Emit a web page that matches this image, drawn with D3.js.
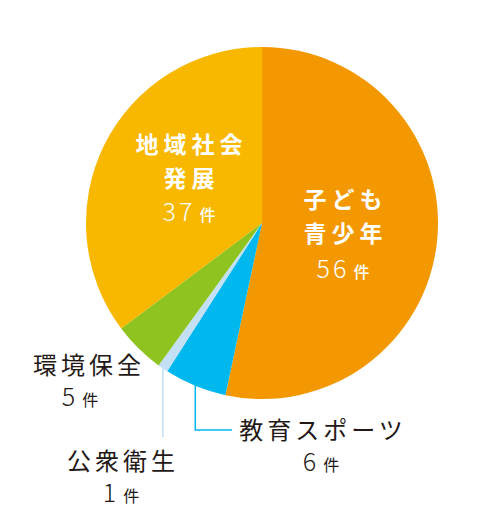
<!DOCTYPE html>
<html>
<head>
<meta charset="utf-8">
<script src="https://cdn.jsdelivr.net/npm/d3@7"></script>
<style>
  body { margin: 0; background: #fff; }
  svg { display: block; font-family: "Noto Sans CJK JP", "Noto Sans", sans-serif; }
</style>
</head>
<body>
<svg id="chart" width="500" height="517"></svg>
<script>
const categories = ["子ども青少年", "教育スポーツ", "公衆衛生", "環境保全", "地域社会発展"]
const counts = [56, 6, 1, 5, 37]
const colors = ["#F39800", "#00B8EE", "#C3E0F5", "#8FC31F", "#F8B800"]
const unit = "件"

const svg = d3.select("#chart")
const cx = 262, cy = 223, radius = 176

const data = categories.map((c, i) => ({ name: c, value: counts[i], color: colors[i] }))

const pie = d3.pie().value(d => d.value).sort(null)
const arc = d3.arc().innerRadius(0).outerRadius(radius)
const arcs = pie(data)

const g = svg.append("g").attr("transform", `translate(${cx},${cy})`)

g.selectAll("path")
    .data(arcs)
    .join("path")
    .attr("d", arc)
    .attr("fill", d => d.data.color)

// point on the rim at the middle of a slice
function rimPoint(a) {
    const mid = (a.startAngle + a.endAngle) / 2
    return [cx + Math.sin(mid) * radius, cy - Math.cos(mid) * radius]
}

// leader lines for the two thin slices
const pEdu = rimPoint(arcs[1])
svg.append("path")
    .attr("d", `M${pEdu[0]},${pEdu[1] - 2} V430 H232`)
    .attr("fill", "none")
    .attr("stroke", colors[1])
    .attr("stroke-width", 1.5)

const pHealth = rimPoint(arcs[2])
svg.append("path")
    .attr("d", `M${pHealth[0]},${pHealth[1] - 2} V437`)
    .attr("fill", "none")
    .attr("stroke", colors[2])
    .attr("stroke-width", 1.5)

// one text per label: name lines, then the count with a smaller 件
function label(lines, x, y, num, numX, numY, opts) {
    const t = svg.append("text")
        .attr("text-anchor", "middle")
        .attr("fill", opts.fill)
    lines.forEach((s, i) => {
        t.append("tspan")
            .attr("x", x + opts.ls / 2)
            .attr("y", y + i * opts.lh)
            .attr("font-size", opts.fs)
            .attr("font-weight", opts.fw)
            .attr("letter-spacing", opts.ls)
            .text(s)
    })
    t.append("tspan").attr("x", numX).attr("y", numY)
        .attr("font-size", 25).attr("font-weight", 300)
        .attr("letter-spacing", 3).text(num)
    t.append("tspan").attr("font-size", 16).attr("font-weight", opts.uw)
        .attr("dx", 4).text(unit)
}

const inside = { fill: "#fff", fs: 23, fw: 700, ls: 5, lh: 34, uw: 500 }
const outside = { fill: "#231815", fs: 24, fw: 400, ls: 4, lh: 0, uw: 400 }

label(["子ども", "青少年"], 343, 208, counts[0], 343, 278, inside)
label(["地域社会", "発展"], 189, 153, counts[4], 189, 221, inside)
label(["環境保全"], 87, 374, counts[3], 80, 406, outside)
label(["教育スポーツ"], 321, 439, counts[1], 321, 471, outside)
label(["公衆衛生"], 121, 470, counts[2], 121, 502, outside)
</script>
</body>
</html>
